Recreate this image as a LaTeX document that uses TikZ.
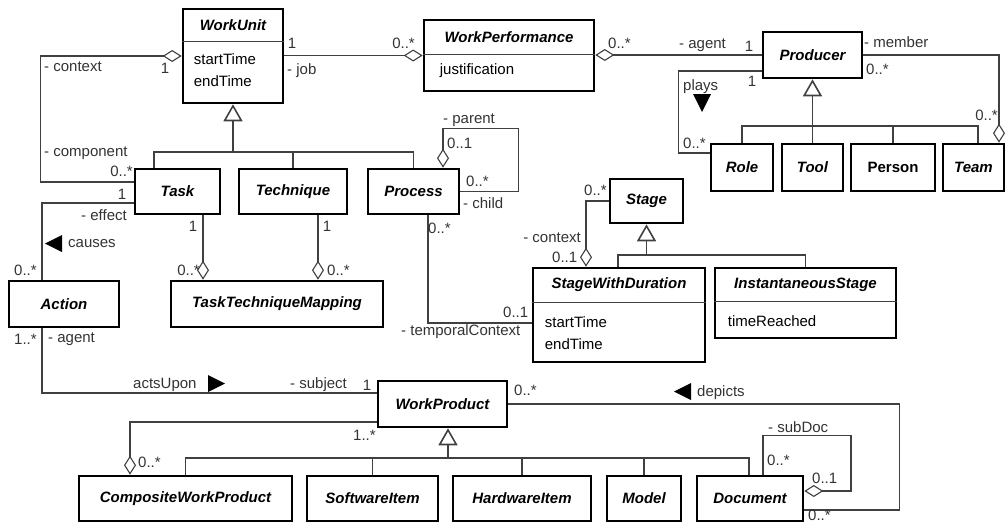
\documentclass[tikz,border=0pt]{standalone}
\usepackage{fontspec}
\setmainfont{Liberation Sans}
\usetikzlibrary{arrows.meta}
\usetikzlibrary{calc}

\newcommand{\umlfont}{\fontsize{15}{18}\selectfont}

\tikzset{
  cls/.style={draw=black, line width=2.6pt, inner sep=0pt, font=\umlfont\bfseries\itshape},
  ttl/.style={inner sep=0pt, font=\umlfont\bfseries\itshape},
  attr/.style={inner sep=0pt, align=left, anchor=west, font=\fontsize{15}{22}\selectfont},
  lbl/.style={inner sep=0pt, anchor=west, text=black!80, font=\umlfont},
  link/.style={draw=black!75, line width=1.1pt},
  agg/.style={link, -{Diamond[open, length=19pt, width=12pt]}},
  gen/.style={draw=black!75, line width=1.6pt, -{Triangle[open, length=17pt, width=19pt]}},
  divider/.style={draw=black!75, line width=0.9pt},
  dirtri/.style={fill=black}
}

\begin{document}
\begin{tikzpicture}[x=1pt,y=-1pt]
\useasboundingbox (0,0) rectangle (1006,522);

% classes, top row
\node[cls, minimum width=100pt, minimum height=94pt] (wunit) at (233,56) {};
\node[ttl] (wunitT) at ([yshift=-17pt]wunit.north) {WorkUnit};
\draw[divider] ([yshift=-34pt]wunit.north west) -- ([yshift=-34pt]wunit.north east);
\node[attr] (wunitA) at ([xshift=12pt,yshift=-62pt]wunit.north west) {startTime\\endTime};

\node[cls, minimum width=170pt, minimum height=71pt] (wperf) at (509,55.5) {};
\node[ttl] (wperfT) at ([yshift=-18pt]wperf.north) {WorkPerformance};
\draw[divider] ([yshift=-36pt]wperf.north west) -- ([yshift=-36pt]wperf.north east);
\node[attr] (wperfA) at ([xshift=17pt,yshift=-52pt]wperf.north west) {justification};

\node[cls, minimum width=99pt, minimum height=46pt] (producer) at (812.5,55) {Producer};
\node[cls, minimum width=62pt, minimum height=47pt] (role) at (742,167.5) {Role};
\node[cls, minimum width=61pt, minimum height=47pt] (tool) at (812.5,167.5) {Tool};
\node[cls, minimum width=84pt, minimum height=47pt, font=\umlfont\bfseries] (person) at (893,167.5) {Person};
\node[cls, minimum width=61pt, minimum height=47pt] (team) at (973.5,167.5) {Team};

% classes, middle
\node[cls, minimum width=85pt, minimum height=45pt] (task) at (177.5,191.5) {Task};
\node[cls, minimum width=108pt, minimum height=45pt] (technique) at (293,191.5) {Technique};
\node[cls, minimum width=91pt, minimum height=45pt] (process) at (413.5,191.5) {Process};
\node[cls, minimum width=110pt, minimum height=46pt] (action) at (64,304) {Action};
\node[cls, minimum width=212pt, minimum height=46pt] (ttm) at (277,304) {TaskTechniqueMapping};
\node[cls, minimum width=73pt, minimum height=44pt] (stage) at (646.5,201) {Stage};

\node[cls, minimum width=172pt, minimum height=94pt] (swd) at (619,315) {};
\node[ttl] (swdT) at ([yshift=-18pt]swd.north) {StageWithDuration};
\draw[divider] ([yshift=-36pt]swd.north west) -- ([yshift=-36pt]swd.north east);
\node[attr] (swdA) at ([xshift=13pt,yshift=-66pt]swd.north west) {startTime\\endTime};

\node[cls, minimum width=181pt, minimum height=70pt] (inst) at (805.5,303) {};
\node[ttl] (instT) at ([yshift=-18pt]inst.north) {InstantaneousStage};
\draw[divider] ([yshift=-35pt]inst.north west) -- ([yshift=-35pt]inst.north east);
\node[attr] (instA) at ([xshift=14pt,yshift=-54pt]inst.north west) {timeReached};

% classes, bottom
\node[cls, minimum width=129pt, minimum height=46pt] (wprod) at (442.5,404) {WorkProduct};
\node[cls, minimum width=213pt, minimum height=45pt] (cwp) at (185.5,498.5) {CompositeWorkProduct};
\node[cls, minimum width=131pt, minimum height=45pt] (soft) at (372.5,498.5) {SoftwareItem};
\node[cls, minimum width=138pt, minimum height=45pt] (hard) at (522,498.5) {HardwareItem};
\node[cls, minimum width=74pt, minimum height=45pt] (model) at (644,498.5) {Model};
\node[cls, minimum width=106pt, minimum height=45pt] (doc) at (750,498.5) {Document};

% generalisations
\coordinate (wuBus) at (233,152);
\draw[gen] (wuBus) -- (wunit.south);
\draw[link] (wuBus) -| ([xshift=-23.5pt]task.north);
\draw[link] (wuBus) -| (technique.north);
\draw[link] (wuBus) -| (process.north);

\coordinate (prBus) at (812.5,126);
\draw[gen] (prBus) -- (producer.south);
\draw[link] (prBus) -| (role.north);
\draw[link] (prBus) -- (tool.north);
\draw[link] (prBus) -| (person.north);
\draw[link] (prBus) -| ([xshift=4.5pt]team.north);

\coordinate (stBus) at (646.5,255);
\draw[gen] (stBus) -- (stage.south);
\draw[link] (stBus) -| ([xshift=-1pt]swd.north);
\draw[link] (stBus) -| (inst.north);

\coordinate (wpBus) at (448,458);
\draw[gen] (wpBus) -- ([xshift=5.5pt]wprod.south);
\draw[link] (wpBus) -| (cwp.north);
\draw[link] (wpBus) -| (soft.north);
\draw[link] (wpBus) -| (hard.north);
\draw[link] (wpBus) -| (model.north);
\draw[link] (wpBus) -| ([xshift=-1pt]doc.north);

% associations
\draw[agg] (wunit.east |- wperf.west) -- (wperf.west);
\draw[agg] (producer.west) -- (producer.west -| wperf.east);
\draw[agg] ([yshift=9.5pt]task.west) -- ++(-93,0) |- (wunit.west);
\draw[link] ([yshift=-11.5pt]task.west) -| ([xshift=-22pt]action.north);
\draw[link] ([xshift=-22pt]action.south) |- ([yshift=11pt]wprod.west);
\draw[agg] ([xshift=25.5pt]task.south) -- ([xshift=25.5pt]task.south |- ttm.north);
\draw[agg] ([xshift=25pt]technique.south) -- ([xshift=25pt]technique.south |- ttm.north);
\draw[agg] (process.east) -- ++(58,0) -- ++(0,-63) -| ([xshift=29.5pt]process.north);
\draw[agg] (stage.west) -| ([xshift=-33pt]swd.north);
\draw[link] ([xshift=14.5pt]process.south) |- ([yshift=-8pt]swd.west);
\draw[link] ([yshift=-16pt]producer.west) -- ++(-83,0) |- ([yshift=14.5pt]role.west);
\draw[agg] (producer.east) -| ([xshift=25.5pt]team.north);
\draw[agg] ([yshift=-18pt]wprod.west) -| ([xshift=-55.5pt]cwp.north);
\draw[link] (wprod.east) -- ++(391,0) |- ([yshift=-11.5pt]doc.east);
\draw[agg] ([xshift=13pt]doc.north) -- ++(0,-39) -- ++(88,0) |- ([yshift=7.5pt]doc.east);

% direction marks
\fill[dirtri] (62,235) -- (62,252) -- (45,243.5) -- cycle;
\fill[dirtri] (208,375) -- (208,392) -- (225,383.5) -- cycle;
\fill[dirtri] (693,94) -- (711,94) -- (702,112) -- cycle;
\fill[dirtri] (691,383) -- (691,400) -- (674,391.5) -- cycle;

% role names and multiplicities
\node[lbl, anchor=center] (mJobWu) at (292,43) {1};
\node[lbl] (rJob) at (287,71) {- job};
\node[lbl, anchor=east] (mJobWp) at (415,43) {0..*};
\node[lbl] (mAgWp) at (608,43) {0..*};
\node[lbl] (rAgent) at (679,45) {- agent};
\node[lbl, anchor=center] (mAgPr) at (749,46) {1};
\node[lbl] (rMember) at (864,42) {- member};
\node[lbl] (mMemPr) at (866,69) {0..*};
\node[lbl, anchor=east] (mMemTm) at (998,115) {0..*};
\node[lbl, anchor=center] (mPlPr) at (752,81) {1};
\node[lbl] (rPlays) at (683,87) {plays};
\node[lbl] (mPlRo) at (683,143) {0..*};
\node[lbl] (rContext) at (44,67) {- context};
\node[lbl, anchor=center] (mCtx) at (165,68) {1};
\node[lbl] (rComponent) at (44,153) {- component};
\node[lbl, anchor=east] (mComp) at (133,171) {0..*};
\node[lbl, anchor=center] (mEffTk) at (122,194) {1};
\node[lbl] (rEffect) at (81,215) {- effect};
\node[lbl] (rCauses) at (68,244) {causes};
\node[lbl] (mEffAc) at (14,270) {0..*};
\node[lbl] (mAgAc) at (14,339) {1..*};
\node[lbl] (rAgAc) at (48,339) {- agent};
\node[lbl] (rActs) at (133,385) {actsUpon};
\node[lbl] (rSubject) at (290,385) {- subject};
\node[lbl, anchor=center] (mSubj) at (367,385) {1};
\node[lbl, anchor=center] (mTkMap) at (193,226) {1};
\node[lbl, anchor=east] (mMapTk) at (200,270) {0..*};
\node[lbl, anchor=center] (mTqMap) at (327,226) {1};
\node[lbl] (mMapTq) at (327,270) {0..*};
\node[lbl] (rParent) at (443,120) {- parent};
\node[lbl] (mParent) at (447,143) {0..1};
\node[lbl] (mChild) at (466,181) {0..*};
\node[lbl] (rChild) at (463,203) {- child};
\node[lbl] (mTcPr) at (428,228) {0..*};
\node[lbl] (mTcSw) at (503,312) {0..1};
\node[lbl] (rTemporal) at (401,332) {- temporalContext};
\node[lbl] (mStSt) at (584,190) {0..*};
\node[lbl, anchor=east] (rStCtx) at (581,238) {- context};
\node[lbl] (mStSw) at (552,257) {0..1};
\node[lbl] (mCwpWp) at (353,435) {1..*};
\node[lbl] (mCwpCw) at (138,462) {0..*};
\node[lbl] (mDepWp) at (514,390) {0..*};
\node[lbl] (rDepicts) at (697,393) {depicts};
\node[lbl] (mDepDc) at (808,515) {0..*};
\node[lbl] (rSubDoc) at (768,427) {- subDoc};
\node[lbl] (mSubDc) at (767,460) {0..*};
\node[lbl] (mSupDc) at (812,478) {0..1};
\end{tikzpicture}
\end{document}
